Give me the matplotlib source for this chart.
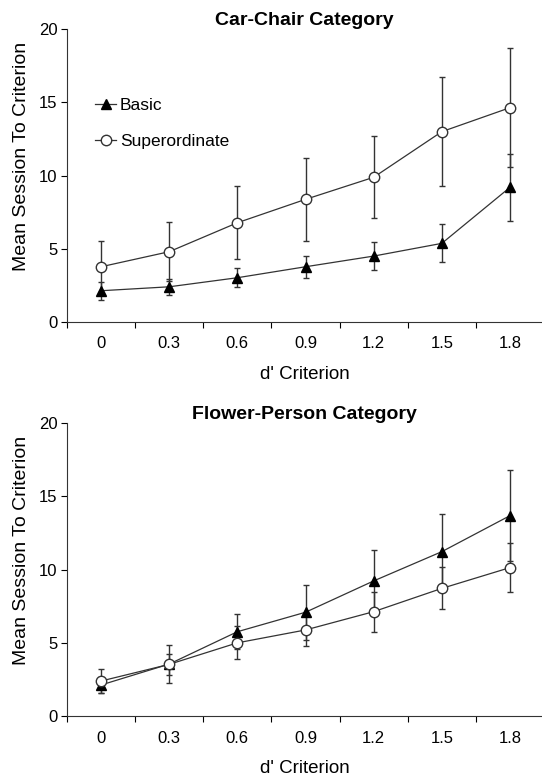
import matplotlib
matplotlib.use("Agg")
import matplotlib.pyplot as plt
import numpy as np

plt.rcParams['font.family'] = ['Liberation Sans', 'DejaVu Sans']

criteria = ["0", "0.3", "0.6", "0.9", "1.2", "1.5", "1.8"]

car_basic = [2.12, 2.39, 3.01, 3.76, 4.49, 5.36, 9.19]
car_basic_err = [0.6, 0.55, 0.66, 0.76, 0.93, 1.3, 2.3]
car_super = [3.76, 4.79, 6.77, 8.37, 9.88, 13.0, 14.64]
car_super_err = [1.74, 2.0, 2.48, 2.84, 2.8, 3.73, 4.05]

fl_basic = [2.12, 3.55, 5.76, 7.09, 9.23, 11.23, 13.69]
fl_basic_err = [0.57, 1.3, 1.2, 1.88, 2.14, 2.56, 3.1]
fl_super = [2.39, 3.53, 5.0, 5.88, 7.13, 8.72, 10.14]
fl_super_err = [0.85, 0.7, 1.13, 1.1, 1.37, 1.43, 1.7]

titles = ["Car-Chair Category", "Flower-Person Category"]

fig = plt.figure(figsize=(5.42, 7.76), dpi=100)
ax1 = fig.add_axes([0.1236, 0.5854, 0.8764, 0.3768])
ax2 = fig.add_axes([0.1236, 0.0773, 0.8764, 0.3772])

panels = [(ax1, car_basic, car_basic_err, car_super, car_super_err, titles[0]),
          (ax2, fl_basic, fl_basic_err, fl_super, fl_super_err, titles[1])]

x = np.arange(len(criteria))
for i, (ax, b, be, s, se, t) in enumerate(panels):
    ax.errorbar(x, s, yerr=se, fmt='none', ecolor='#333333', elinewidth=1.0,
                capsize=2.5, capthick=1.0, zorder=2)
    ax.errorbar(x, b, yerr=be, fmt='none', ecolor='#333333', elinewidth=1.0,
                capsize=2.5, capthick=1.0, zorder=2)
    ax.plot(x, b, '-', color='#333333', lw=0.9, marker='^', ms=6.5,
            mfc='black', mec='black', label='Basic', zorder=3)
    ax.plot(x, s, '-', color='#333333', lw=0.9, marker='o', ms=7.5,
            mfc='white', mec='#333333', mew=1.0, label='Superordinate', zorder=3)
    ax.set_xlim(-0.5, 6.47)
    ax.set_ylim(0, 20)
    ax.set_yticks([0, 5, 10, 15, 20])
    ax.set_xticks(np.arange(-0.5, 6.0, 1.0))
    ax.set_xticklabels([])
    ax.set_xticks(x, minor=True)
    ax.set_xticklabels(criteria, minor=True)
    ax.tick_params(axis='x', which='minor', length=0, pad=10.5, labelsize=12)
    ax.tick_params(axis='x', which='major', length=4, width=0.8, direction='out')
    ax.tick_params(axis='y', length=4, width=0.8, direction='out', labelsize=12, pad=3)
    for sp in ['top', 'right']:
        ax.spines[sp].set_visible(False)
    for sp in ['left', 'bottom']:
        ax.spines[sp].set_linewidth(0.8)
        ax.spines[sp].set_color('#333333')
    ax.set_xlabel("d' Criterion", fontsize=13.5, labelpad=10.5)
    ax.set_ylabel("Mean Session To Criterion", fontsize=14)
    ax.yaxis.set_label_coords(-0.078, 0.566)
    ax.set_title(t, fontsize=14, fontweight='bold', pad=2)
    if i == 0:
        ax.legend(loc='upper left', bbox_to_anchor=(0.06, 0.765), frameon=False,
                  handlelength=1.2, handletextpad=0.2, labelspacing=1.2,
                  fontsize=12.5, borderaxespad=0, borderpad=0)

fig.savefig("out.png", dpi=100)
